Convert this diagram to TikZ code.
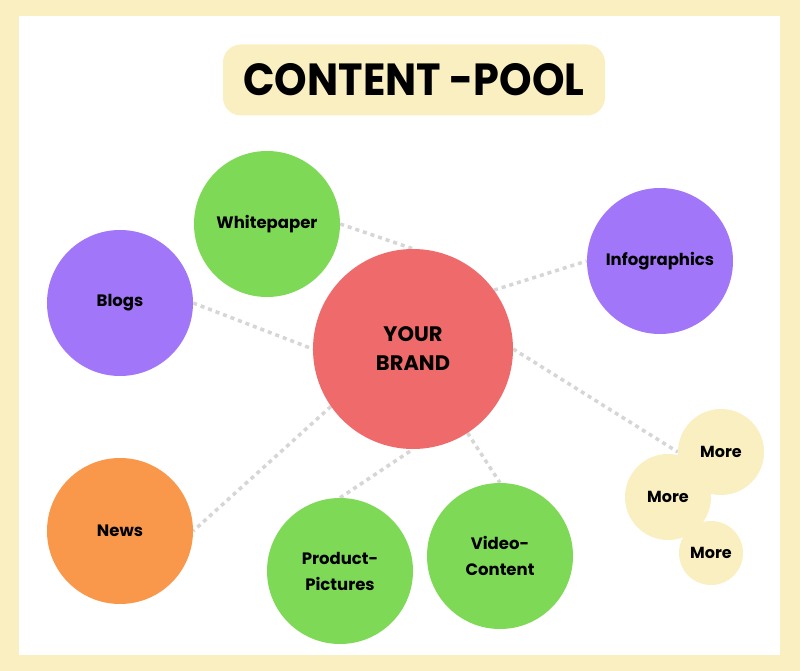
\documentclass[tikz,border=0pt]{standalone}
\usepackage{fontspec}
\usepackage{graphicx}
\setmainfont{Poppins}
\usepackage{tikz}
\usetikzlibrary{backgrounds}
\definecolor{Frame}{HTML}{F9EFC0}
\definecolor{Brand}{HTML}{EF6B6B}
\definecolor{Leaf}{HTML}{7ED957}
\definecolor{Violet}{HTML}{A276F8}
\definecolor{Tangerine}{HTML}{F9974A}
\definecolor{Link}{HTML}{D6D6D6}

\begin{document}
\begin{tikzpicture}[x=1pt,y=-1pt,
    bubble/.style={circle,inner sep=0pt,minimum size=146pt,font=\fontsize{16.5}{26}\selectfont\bfseries,align=center},
    small/.style={circle,fill=Frame,inner sep=0pt,font=\fontsize{16}{20}\selectfont\bfseries},
    link/.style={draw=Link,line width=3.5pt,dash pattern=on 4pt off 4pt}
]
% heading
\node[fill=Frame,rounded corners=18pt,minimum width=382pt,minimum height=71pt,
      font=\fontsize{45}{45}\selectfont\bfseries] (title) at (414,80)
      {\scalebox{0.92}[1]{CONTENT -POOL}};
% bubbles
\node[bubble,fill=Brand,minimum size=200pt,font=\fontsize{21}{29}\selectfont\bfseries] (brand) at (413,349) {YOUR\\BRAND};
\node[bubble,fill=Leaf] (wp) at (267,224) {Whitepaper};
\node[bubble,fill=Violet] (blogs) at (120,303) {Blogs};
\node[bubble,fill=Violet] (info) at (660,261) {Infographics};
\node[bubble,fill=Tangerine] (news) at (120,531) {News};
\node[bubble,fill=Leaf] (prod) at (340,571) {Product-\\Pictures};
\node[bubble,fill=Leaf] (video) at (500,556) {Video-\\Content};
\node[small,minimum size=86pt] (more1) at (721,452) {More};
\node[small,minimum size=86pt] (more2) at (668,497) {More};
\node[small,minimum size=64pt] (more3) at (711,553) {More};
% frame and dotted links behind
\begin{scope}[on background layer]
\fill[Frame] (0,0) rectangle (800,671);
\fill[white] (19,16) rectangle (780,655);
\draw[link] (wp.east) -- (brand.north);
\draw[link] (blogs.east) -- (brand.west);
\draw[link] (brand.36) -- (info.west);
\draw[link] (brand.215) -- (news.east);
\draw[link] (prod.north) -- (brand.south);
\draw[link] (brand.303) -- (video.north);
\draw[link] (brand.east) -- (more1.west);
\end{scope}
\end{tikzpicture}
\end{document}
